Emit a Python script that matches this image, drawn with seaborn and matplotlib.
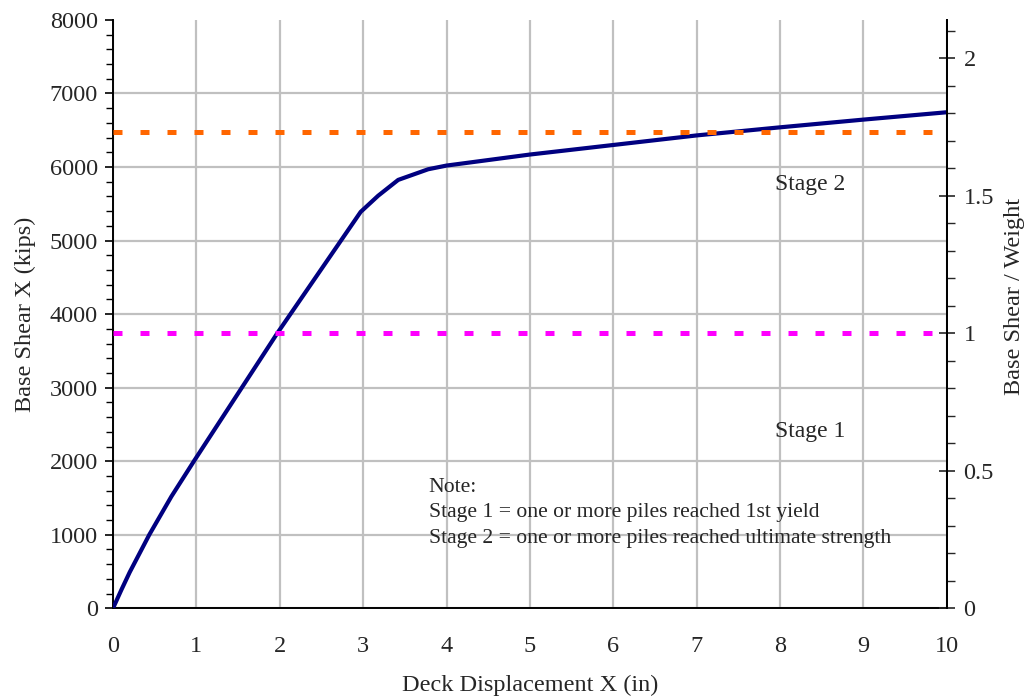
import pandas as pd
import seaborn as sns
import matplotlib.pyplot as plt
from matplotlib.ticker import MultipleLocator

# pushover curve
disp = [0, 0.1, 0.2, 0.435, 0.7, 0.97, 1.97, 2.97, 3.18, 3.42, 3.78, 4.0, 5, 6, 7, 8, 9, 10]
shear = [0, 250, 490, 1000, 1520, 2000, 3740, 5390, 5610, 5825, 5970, 6020, 6170, 6300, 6430, 6540, 6645, 6745]

stage1 = 3740   # kips, also the weight (ratio = 1)
stage2 = 6470
weight = 3740

note_lines = ["Note:",
              "Stage 1 = one or more piles reached 1st yield",
              "Stage 2 = one or more piles reached ultimate strength"]

df = pd.DataFrame({"disp": disp, "shear": shear})

sns.set_style("white")
plt.rcParams['font.family'] = ['Liberation Serif', 'DejaVu Serif']
plt.rcParams['font.size'] = 17

fig = plt.figure(figsize=(10.32, 7.0), dpi=100)
ax = fig.add_axes([0.1095, 0.131, 0.808, 0.8405])

sns.lineplot(data=df, x="disp", y="shear", ax=ax, color="#000080", lw=3.0, zorder=3)
ax.axhline(stage1, color="#FF00FF", lw=3.6, dashes=(1.8, 3.6), zorder=4)
ax.axhline(stage2, color="#FF6600", lw=3.6, dashes=(1.8, 3.6), zorder=4)

ax.set_xlim(0, 10)
ax.set_ylim(0, 8000)
ax.set_xticks(range(0, 11))
ax.set_yticks(range(0, 8001, 1000))
ax.xaxis.set_minor_locator(MultipleLocator(0.2))
ax.yaxis.set_minor_locator(MultipleLocator(200))
ax.grid(True, which="major", color="#C0C0C0", lw=1.6)
ax.set_axisbelow(True)
ax.tick_params(which="both", direction="out", color="black", labelsize=17.5)
ax.tick_params(which="major", length=6, width=1.2)
ax.tick_params(which="minor", length=5, width=1.0)
ax.tick_params(axis="x", pad=14)
ax.tick_params(axis="y", pad=5)
for s in ["left", "bottom", "right"]:
    ax.spines[s].set_color("black")
    ax.spines[s].set_linewidth(1.4)
ax.spines["top"].set_visible(False)
ax.set_xlabel("Deck Displacement X (in)", fontsize=17.5, labelpad=13)
ax.set_ylabel("Base Shear X (kips)", fontsize=17.5, labelpad=10)

ax.text(7.94, 5767, "Stage 2", fontsize=17, va="center", ha="left")
ax.text(7.94, 2402, "Stage 1", fontsize=17, va="center", ha="left")
ax.text(3.785, 1298, "\n".join(note_lines), fontsize=15.6, va="center", ha="left",
        linespacing=1.45)

# right axis: base shear / weight
ax2 = ax.twinx()
ax2.set_ylim(0, 8000 / weight)
ax2.yaxis.set_major_locator(MultipleLocator(0.5))
ax2.yaxis.set_minor_locator(MultipleLocator(0.1))
ax2.tick_params(which="major", direction="inout", length=12, width=1.2, labelsize=17.5, pad=6)
ax2.tick_params(which="minor", direction="out", length=6, width=1.0)
ax2.set_yticklabels([f"{t:g}" for t in ax2.get_yticks()])
ax2.set_ylabel("Base Shear / Weight", fontsize=17.5)
ax2.yaxis.set_label_coords(1.068, 0.53)
for s in ["top", "left", "bottom"]:
    ax2.spines[s].set_visible(False)
ax2.spines["right"].set_color("black")
ax2.spines["right"].set_linewidth(1.4)
ax2.grid(False)

fig.canvas.draw()
ax.yaxis.get_gridlines()[-1].set_visible(False)

plt.savefig("out.png", dpi=100)
